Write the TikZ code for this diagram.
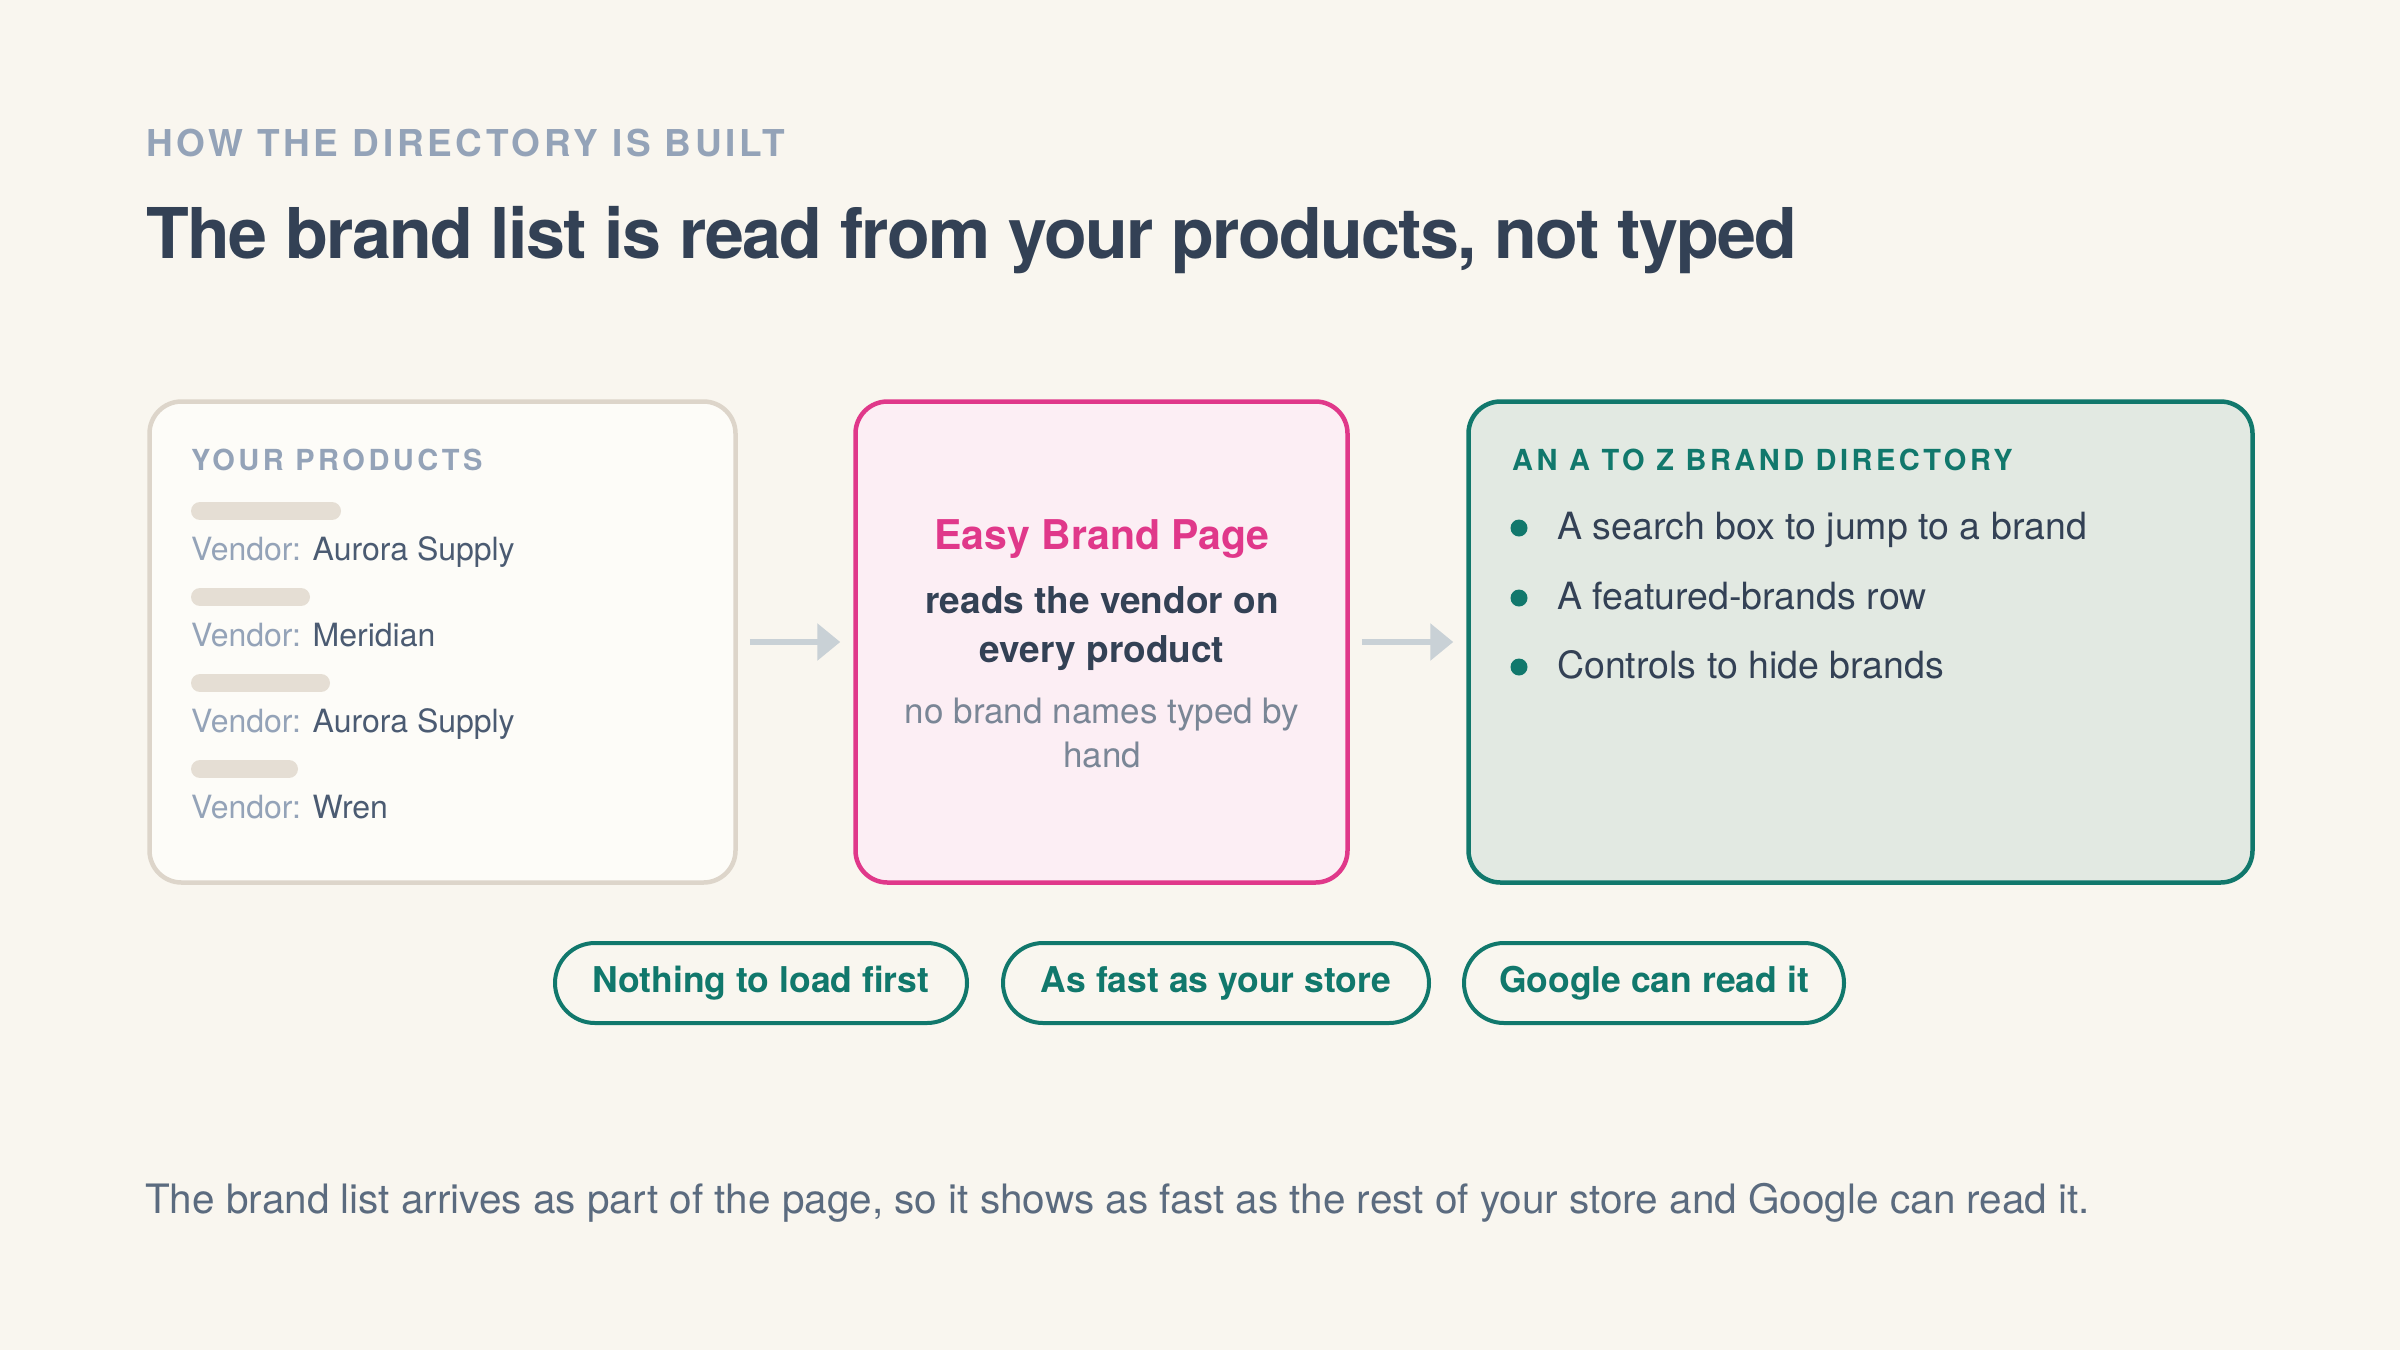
\documentclass[tikz,border=0pt]{standalone}
\usepackage{fontspec}
\setmainfont{TeX Gyre Heros}
\usetikzlibrary{arrows.meta}
\definecolor{bg}{HTML}{F9F6EF}
\definecolor{ink}{HTML}{334155}
\definecolor{muted}{HTML}{94A3B8}
\definecolor{vname}{HTML}{4B5B72}
\definecolor{note}{HTML}{7A8696}
\definecolor{foot}{HTML}{5B6B7F}
\definecolor{pink}{HTML}{E0388A}
\definecolor{pinkfill}{HTML}{FCEEF4}
\definecolor{teal}{HTML}{11786C}
\definecolor{tealfill}{HTML}{E2E9E2}
\definecolor{prodfill}{HTML}{FDFCF8}
\definecolor{prodline}{HTML}{DDD5CA}
\definecolor{barcol}{HTML}{E5DED4}
\definecolor{arrowcol}{HTML}{C9D1D6}
\newcommand\fsz[2]{\fontsize{#1}{#2}\selectfont}
\begin{document}
\begin{tikzpicture}[x=1pt,y=-1pt,
  panel/.style={draw, rounded corners=32pt, line width=4.5pt, inner sep=0pt},
  flow/.style={draw=arrowcol, line width=6pt, -{Triangle[length=23pt,width=36pt]}, shorten <=12pt, shorten >=13pt},
  bar/.style={draw=barcol, line width=18pt, line cap=round},
  txt/.style={inner sep=0pt, anchor=base west},
  ctxt/.style={inner sep=0pt, anchor=base},
  kicker/.style={txt, font=\fsz{29}{34}\bfseries\addfontfeatures{LetterSpace=12}},
  vend/.style={txt, font=\fsz{32}{38}},
  item/.style={txt, font=\fsz{37.5}{44}, text=ink},
  dot/.style={fill=teal, draw=none, circle, minimum size=17pt, inner sep=0pt},
  pill/.style={draw=teal, line width=4pt, fill=bg, rounded corners=40pt, minimum height=80pt, inner sep=0pt, text=teal, font=\fsz{35.5}{42}\bfseries}
]
\path[fill=bg, use as bounding box] (0,0) rectangle (2400,1350);

% heading
\node[txt, text=muted, font=\fsz{37}{44}\bfseries\addfontfeatures{LetterSpace=10}] (kick) at (146,156) {HOW THE DIRECTORY IS BUILT};
\node[txt, text=ink, font=\fsz{70}{84}\bfseries\addfontfeatures{LetterSpace=-2.4}] (title) at (146,258) {The brand list is read from your products, not typed};

% panels
\node[panel, draw=prodline, fill=prodfill, minimum width=586pt, minimum height=481pt] (prod) at (442.5,642) {};
\node[panel, draw=pink, fill=pinkfill, minimum width=492pt, minimum height=481pt] (engine) at (1101.5,642) {};
\node[panel, draw=teal, fill=tealfill, minimum width=784pt, minimum height=481pt] (dir) at (1860.5,642) {};

\draw[flow] (prod.east) -- (engine.west);
\draw[flow] (engine.east) -- (dir.west);

% products
\node[kicker, text=muted] (prodhead) at (191,470) {YOUR PRODUCTS};
\draw[bar] (200,511) -- (332,511);
\node[vend] (v1) at (191,560) {\textcolor{muted}{Vendor:} \textcolor{vname}{Aurora Supply}};
\draw[bar] (200,597) -- (301,597);
\node[vend] (v2) at (191,646) {\textcolor{muted}{Vendor:} \textcolor{vname}{Meridian}};
\draw[bar] (200,683) -- (321,683);
\node[vend] (v3) at (191,732) {\textcolor{muted}{Vendor:} \textcolor{vname}{Aurora Supply}};
\draw[bar] (200,769) -- (289,769);
\node[vend] (v4) at (191,818) {\textcolor{muted}{Vendor:} \textcolor{vname}{Wren}};

% engine
\node[ctxt, text=pink, font=\fsz{41}{48}\bfseries] (ename) at (1102,549) {Easy Brand Page};
\node[ctxt, text=ink, font=\fsz{37}{44}\bfseries] (e1) at (1102,613) {reads the vendor on};
\node[ctxt, text=ink, font=\fsz{37}{44}\bfseries] (e2) at (1102,662) {every product};
\node[ctxt, text=note, font=\fsz{35}{42}] (e3) at (1102,723) {no brand names typed by};
\node[ctxt, text=note, font=\fsz{35}{42}] (e4) at (1102,767) {hand};

% directory
\node[kicker, text=teal] (dirhead) at (1512,470) {AN A TO Z BRAND DIRECTORY};
\node[dot] (d1) at (1519,528) {};
\node[item] (i1) at (1557,539) {A search box to jump to a brand};
\node[dot] (d2) at (1519,598) {};
\node[item] (i2) at (1557,609) {A featured-brands row};
\node[dot] (d3) at (1519,667) {};
\node[item] (i3) at (1557,678) {Controls to hide brands};

% pills
\node[pill, minimum width=412pt] (p1) at (761,983) {Nothing to load first};
\node[pill, minimum width=426pt] (p2) at (1216,983) {As fast as your store};
\node[pill, minimum width=380pt] (p3) at (1654,983) {Google can read it};

% footer
\node[txt, text=foot, font=\fsz{40.5}{48}] (footer) at (145,1213) {The brand list arrives as part of the page, so it shows as fast as the rest of your store and Google can read it.};
\end{tikzpicture}
\end{document}
